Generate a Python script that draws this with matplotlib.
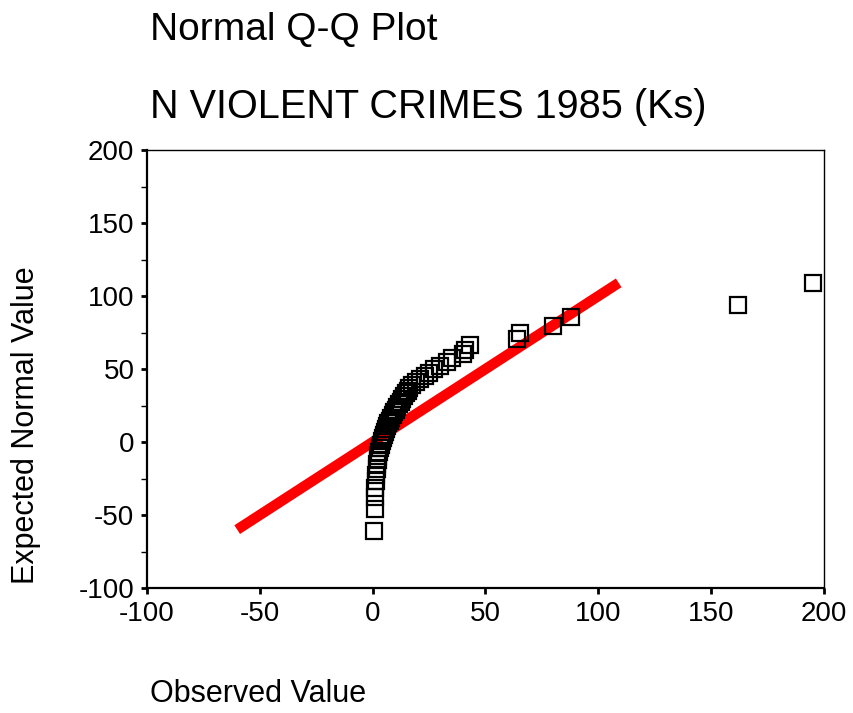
import matplotlib.pyplot as plt
from matplotlib.ticker import MultipleLocator

# sorted observed values (thousands) and their expected normal values
observed = [0.8, 0.9, 1.0, 1.2, 1.4, 1.6, 1.8, 2.0, 2.3, 2.6,
            3.0, 3.3, 3.6, 4.0, 4.4, 4.9, 5.5, 6.0, 6.5, 7.0,
            7.6, 8.3, 9.0, 9.6, 10.3, 11.0, 11.8, 12.5, 13.2, 14.0,
            14.8, 15.5, 16.2, 17.5, 19.0, 21.0, 23.0, 25.0, 27.0, 30.0,
            33.0, 35.0, 40.0, 41.0, 43.0, 64.0, 65.5, 80.0, 88.0, 162.0, 195.0]
expected = [-61.0, -46.0, -37.8, -31.6, -26.6, -22.4, -18.7, -15.3, -12.3, -9.5,
            -6.8, -4.3, -1.9, 0.4, 2.6, 4.7, 6.8, 8.8, 10.8, 12.8,
            14.7, 16.6, 18.4, 20.3, 22.1, 24.0, 25.9, 27.7, 29.6, 31.4,
            33.3, 35.2, 37.2, 39.2, 41.2, 43.3, 45.4, 47.6, 49.9, 52.3,
            54.8, 57.5, 60.3, 63.3, 66.7, 70.4, 74.6, 79.6, 85.6, 94.0, 109.0]

# reference line y = x
ref_line = [-60, 109]

xticks = [-100, -50, 0, 50, 100, 150, 200]
yticks = [-100, -50, 0, 50, 100, 150, 200]

plt.rcParams['font.family'] = ['Liberation Sans', 'DejaVu Sans']
plt.rcParams['axes.unicode_minus'] = False

fig = plt.figure(figsize=(8.54, 7.13), dpi=100)
ax = fig.add_axes([0.172, 0.1753, 0.793, 0.6143])

ax.plot(ref_line, ref_line, color='#ff0000', linewidth=7.5, solid_capstyle='butt', zorder=1)
ax.plot(observed, expected, linestyle='none', marker='s', markersize=12,
        markerfacecolor='none', markeredgecolor='black', markeredgewidth=1.6, zorder=2)

ax.set_xlim(-100, 200)
ax.set_ylim(-100, 200)
ax.set_xticks(xticks)
ax.set_yticks(yticks)
ax.yaxis.set_minor_locator(MultipleLocator(25))
ax.tick_params(axis='both', which='major', direction='out', length=4, width=2,
               labelsize=20, pad=5)
ax.tick_params(axis='y', which='minor', direction='out', length=4, width=1)

for side in ['left', 'bottom']:
    ax.spines[side].set_linewidth(1.6)
for side in ['top', 'right']:
    ax.spines[side].set_linewidth(1.0)

fig.text(0.1756, 0.944, 'Normal Q-Q Plot', fontsize=28, va='baseline')
fig.text(0.1756, 0.8345, 'N VIOLENT CRIMES 1985 (Ks)', fontsize=28.5, va='baseline')
fig.text(0.03, 0.6 - 0.2 + 0.003, 'Expected Normal Value', fontsize=22, rotation=90,
         ha='center', va='center')
fig.text(0.1756, 0.015, 'Observed Value', fontsize=22, va='baseline')

fig.savefig('out.png', dpi=100)
